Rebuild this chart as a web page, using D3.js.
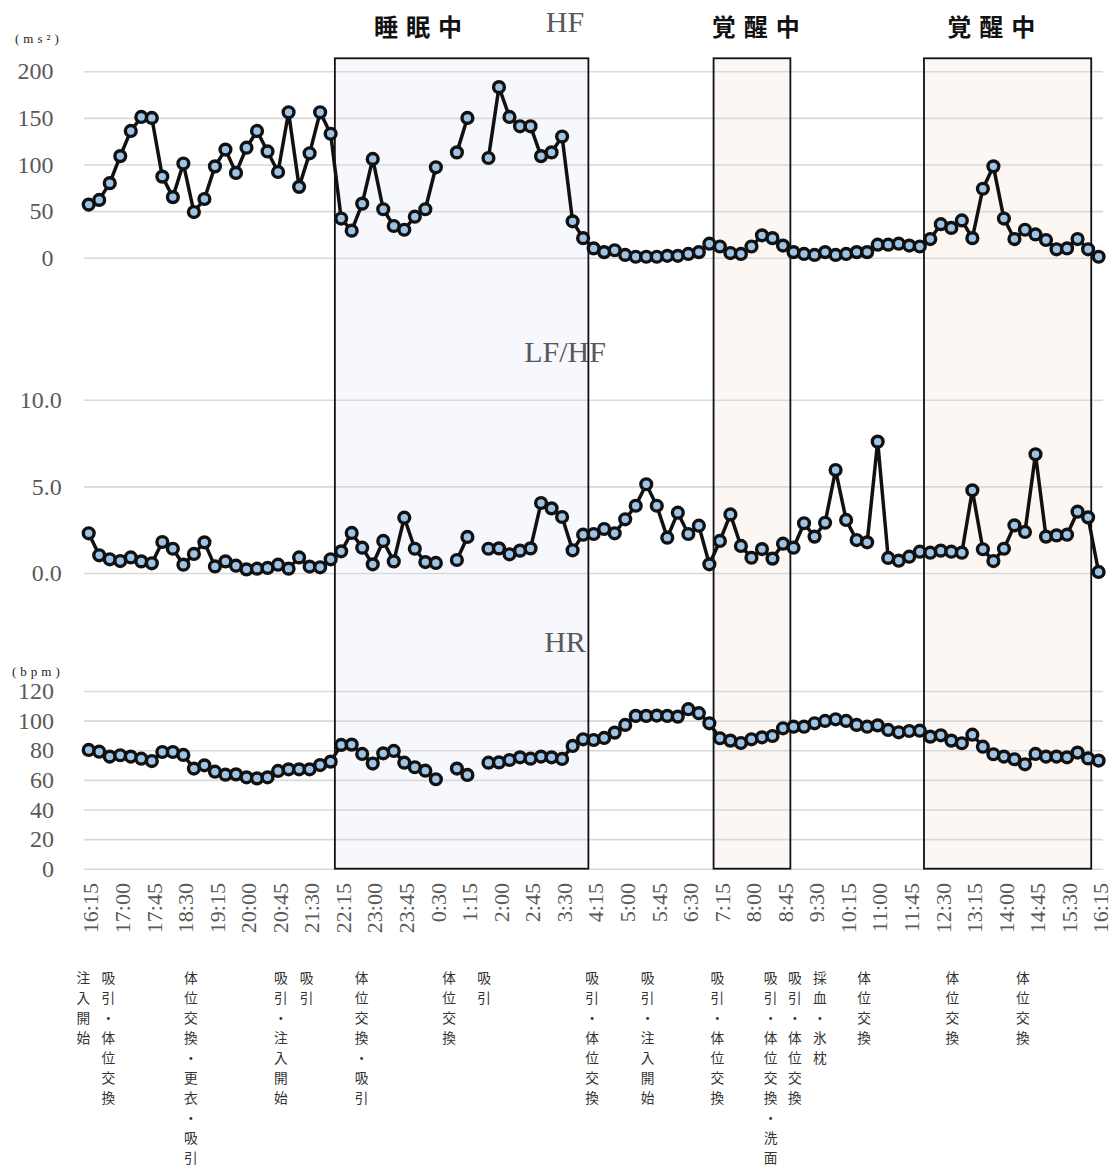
<!DOCTYPE html>
<html><head><meta charset="utf-8">
<script src="https://cdn.jsdelivr.net/npm/d3@7"></script>
<style>body{margin:0;background:#fff}svg{display:block}</style>
</head><body><svg id="c" width="1113" height="1169"></svg>
<script>
// ---------- DATA ----------
const times = ["16:15","16:30","16:45","17:00","17:15","17:30","17:45","18:00","18:15","18:30","18:45","19:00","19:15","19:30","19:45","20:00","20:15","20:30","20:45","21:00","21:15","21:30","21:45","22:00","22:15","22:30","22:45","23:00","23:15","23:30","23:45","0:00","0:15","0:30","0:45","1:00","1:15","1:30","1:45","2:00","2:15","2:30","2:45","3:00","3:15","3:30","3:45","4:00","4:15","4:30","4:45","5:00","5:15","5:30","5:45","6:00","6:15","6:30","6:45","7:00","7:15","7:30","7:45","8:00","8:15","8:30","8:45","9:00","9:15","9:30","9:45","10:00","10:15","10:30","10:45","11:00","11:15","11:30","11:45","12:00","12:15","12:30","12:45","13:00","13:15","13:30","13:45","14:00","14:15","14:30","14:45","15:00","15:15","15:30","15:45","16:00","16:15"];
const tickLabels = ["16:15","17:00","17:45","18:30","19:15","20:00","20:45","21:30","22:15","23:00","23:45","0:30","1:15","2:00","2:45","3:30","4:15","5:00","5:45","6:30","7:15","8:00","8:45","9:30","10:15","11:00","11:45","12:30","13:15","14:00","14:45","15:30","16:15"];

const hfValues = [57,62,80,109,136,151,150,87,65,101,49,63,98,116,91,118,136,114,92,156,76,112,156,133,42,29,58,106,52,34,30,44,52,97,null,113,150,null,107,183,151,141,141,109,113,130,39,21,10,6,8,3,1,1,1,2,2,4,6,15,12,5,4,12,24,21,13,6,4,3,6,3,4,6,6,14,14,15,13,12,20,36,32,40,21,74,98,42,20,30,25,19,9,10,20,9,1];
const lfhfValues = [2.29,1.02,0.79,0.69,0.90,0.67,0.56,1.79,1.40,0.48,1.10,1.77,0.38,0.67,0.42,0.21,0.25,0.29,0.48,0.25,0.90,0.37,0.33,0.79,1.25,2.31,1.46,0.50,1.85,0.67,3.19,1.40,0.63,0.58,null,0.75,2.08,null,1.40,1.42,1.08,1.29,1.42,4.04,3.73,3.23,1.31,2.21,2.25,2.54,2.29,3.10,3.88,5.12,3.88,2.04,3.48,2.25,2.73,0.50,1.85,3.38,1.56,0.88,1.38,0.83,1.69,1.46,2.87,2.10,2.90,5.94,3.06,1.90,1.77,7.58,0.87,0.71,0.94,1.23,1.17,1.29,1.23,1.17,4.77,1.37,0.69,1.40,2.75,2.37,6.85,2.10,2.17,2.21,3.54,3.21,0.06];
const hrValues = [80.2,79,75.7,76.6,75.7,74.3,72.7,78.8,78.8,76.8,67.6,69.8,65.5,63.5,63.7,61.7,61,61.7,66,67.1,67.1,67.1,70,72.3,83.6,83.8,77.5,71,77.9,79.5,71.6,68.5,66.2,60.4,null,67.6,63.3,null,71.6,71.8,73.4,75.2,74.3,75.7,75.2,74.1,82.9,87.4,86.9,88.3,91.9,97.1,103.2,103.2,103.4,103.2,102.7,107.7,105,98.2,88.1,86.5,84.9,87.4,88.7,89.6,94.8,95.9,95.9,98.2,99.8,100.9,99.8,97.1,95.9,96.8,93.7,92.1,93,93.2,89.2,90.1,86.5,84.7,90.5,82.4,77.3,75.7,73.9,70.5,77.5,75.7,75.7,75.2,78.4,74.5,73];

const hfTicks = [0,50,100,150,200];
const lfhfTicks = [0,5,10];
const hrTicks = [0,20,40,60,80,100,120];

// periods on the time-slot axis
const periodLabels = ["睡眠中","覚醒中","覚醒中"];
const periodKinds = ["sleep","awake","awake"];
const periodStart = [23.4,59.4,79.4];
const periodEnd = [47.5,66.7,95.3];
const periodLabelSlot = [31.3,63.4,85.8];

// event notes on the time-slot axis
const noteTexts = ["注入開始","吸引・体位交換","体位交換・更衣・吸引","吸引・注入開始","吸引","体位交換・吸引","体位交換","吸引","吸引・体位交換","吸引・注入開始","吸引・体位交換","吸引・体位交換・洗面","吸引・体位交換","採血・氷枕","体位交換","体位交換","体位交換"];
const noteSlots = [-0.51,1.86,9.72,18.27,20.72,25.94,34.27,37.59,47.86,53.12,59.77,64.81,67.12,69.5,73.7,82.1,88.8];

// ---------- DRAW ----------
const svg = d3.select("#c");
const serif = "'Liberation Serif','DejaVu Serif',serif";
const cjk = "'Noto Sans CJK JP','Noto Sans CJK SC',sans-serif";
const gray = "#595959";

const x = d3.scaleLinear().domain([0, times.length - 1]).range([88.7, 1098.6]);
const gridLeft = 84, gridRight = 1103;

const panels = [
  {key:"hf", values:hfValues, ticks:hfTicks, y:d3.scaleLinear().domain([0,200]).range([257.7,71.3]),
   labelRight:53.5, fmt:d3.format("d"), title:"HF", titleY:32, unit:"(ms²)", unitX:15, unitY:38},
  {key:"lfhf", values:lfhfValues, ticks:lfhfTicks, y:d3.scaleLinear().domain([0,10]).range([573,399.7]),
   labelRight:61.7, fmt:d3.format(".1f"), title:"LF/HF", titleY:361.5},
  {key:"hr", values:hrValues, ticks:hrTicks, y:d3.scaleLinear().domain([0,120]).range([868.7,691]),
   labelRight:54, fmt:d3.format("d"), title:"HR", titleY:652, unit:"(bpm)", unitX:12, unitY:671}
];

const rectTop = 58.3, rectBottom = 868.7;
const periods = periodLabels.map((l,i)=>({label:l, kind:periodKinds[i], s:periodStart[i], e:periodEnd[i], ls:periodLabelSlot[i]}));

// period fills
svg.append("g").selectAll("rect").data(periods).join("rect")
  .attr("x", d=>x(d.s)).attr("y", rectTop)
  .attr("width", d=>x(d.e)-x(d.s)).attr("height", rectBottom-rectTop)
  .attr("fill", d=>d.kind==="sleep" ? "#f6f8fd" : "#fdf7f4");

// y axes with grid
panels.forEach(p=>{
  const g = svg.append("g").attr("transform", `translate(${gridLeft},0)`)
    .call(d3.axisLeft(p.y).tickValues(p.ticks).tickFormat(p.fmt)
      .tickSize(-(gridRight-gridLeft)).tickPadding(gridLeft - p.labelRight));
  g.select(".domain").remove();
  g.selectAll(".tick line").attr("stroke","#d9d9d9").attr("stroke-width",1.6);
  g.selectAll(".tick text").attr("fill",gray).style("font-family",serif).style("font-size","24px");
  svg.append("text").attr("x",565).attr("y",p.titleY).attr("text-anchor","middle")
    .attr("fill",gray).style("font-family",serif).style("font-size","30px").text(p.title);
  if (p.unit) {
    svg.append("text").attr("x",p.unitX).attr("y",p.unitY).attr("dominant-baseline","central")
      .attr("fill","#222").style("font-family",serif).style("font-size","13px")
      .style("letter-spacing","4px").text(p.unit);
  }
});

// period borders
svg.append("g").selectAll("rect").data(periods).join("rect")
  .attr("x", d=>x(d.s)).attr("y", rectTop)
  .attr("width", d=>x(d.e)-x(d.s)).attr("height", rectBottom-rectTop)
  .attr("fill","none").attr("stroke","#111").attr("stroke-width",1.8);

// period labels
svg.append("g").selectAll("text").data(periods).join("text")
  .attr("x", d=>x(d.ls)+4).attr("y", 25).attr("text-anchor","middle").attr("dominant-baseline","central")
  .attr("fill","#111").style("font-family",cjk).style("font-size","24px").style("font-weight","700")
  .style("letter-spacing","8px").text(d=>d.label);

// x axis
const tickSlots = times.map((t,i)=> tickLabels.includes(t) ? i : null).filter(v=>v!==null);
const xg = svg.append("g").attr("transform","translate(0,883)")
  .call(d3.axisBottom(x).tickValues(tickSlots).tickFormat(i=>times[i]).tickSize(0));
xg.select(".domain").remove();
xg.selectAll(".tick text").attr("x",0).attr("y",0).attr("dy","0.42em")
  .attr("transform","rotate(-90)").style("text-anchor","end")
  .attr("fill",gray).style("font-family",serif).style("font-size","22px");

// series lines + markers
panels.forEach(p=>{
  const pts = p.values.map((v,i)=>({i, v}));
  const line = d3.line().defined(d=>d.v!==null).x(d=>x(d.i)).y(d=>p.y(d.v));
  svg.append("path").datum(pts).attr("d", line).attr("fill","none")
    .attr("stroke","#111").attr("stroke-width",3.5).attr("stroke-linejoin","round");
  svg.append("g").selectAll("circle").data(pts.filter(d=>d.v!==null)).join("circle")
    .attr("cx", d=>x(d.i)).attr("cy", d=>p.y(d.v)).attr("r",5.4)
    .attr("fill","#9dc3e6").attr("stroke","#111").attr("stroke-width",3.4);
});

// event notes, vertical text, one glyph per row
const notes = noteTexts.map((t,i)=>({t, s:noteSlots[i]}));
const ng = svg.append("g");
notes.forEach(n=>{
  const chars = Array.from(n.t);
  ng.append("g").selectAll("text").data(chars).join("text")
    .attr("x", x(n.s)).attr("y", (c,k)=>968 + k*20 + 9)
    .attr("text-anchor","middle").attr("dominant-baseline","central")
    .attr("fill","#333").style("font-family",cjk).style("font-size","13.7px")
    .text(c=>c);
});
</script></body></html>
